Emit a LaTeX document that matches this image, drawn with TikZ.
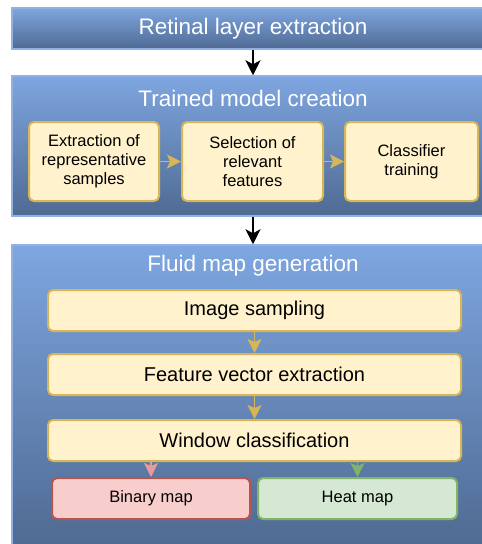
\documentclass[tikz,border=0pt]{standalone}
\usepackage{fontspec}
\setmainfont{Liberation Sans}
\usetikzlibrary{positioning,arrows.meta}
\definecolor{bluetop}{RGB}{126,166,224}
\definecolor{bluebot}{RGB}{79,106,146}
\definecolor{blueline}{RGB}{145,178,226}
\definecolor{yelfill}{HTML}{FFF2CC}
\definecolor{yelline}{HTML}{D6B656}
\definecolor{redfill}{HTML}{F8CECC}
\definecolor{redline}{HTML}{B85450}
\definecolor{redarrow}{HTML}{EA9A98}
\definecolor{grnfill}{HTML}{D5E8D4}
\definecolor{grnline}{HTML}{82B366}

\begin{document}
\begin{tikzpicture}[x=1pt,y=-1pt,
stage/.style={draw=blueline,line width=1.5pt,top color=bluetop,bottom color=bluebot,
 minimum width=482pt,inner sep=0pt,text=white,font=\fontsize{22.5}{27}\selectfont},
title/.style={text=white,font=\fontsize{22.5}{27}\selectfont},
item/.style={draw=yelline,fill=yelfill,line width=2pt,rounded corners=5pt,align=center,
 inner sep=0pt,minimum height=41pt,font=\fontsize{20}{24}\selectfont},
small/.style={item,minimum height=79pt,font=\fontsize{16.5}{19}\selectfont},
result/.style={item,font=\fontsize{16.5}{19}\selectfont},
link/.style={line width=1.8pt,-{Stealth[length=14pt,width=14pt,inset=3pt]}},
main/.style={line width=2pt,-{Stealth[length=15pt,width=15pt,inset=4pt]}}]
 \useasboundingbox (0,0) rectangle (482,544);

 % stages
 \node[stage,minimum height=41pt] (retinal) at (253,28.5) {Retinal layer extraction};
 \node[stage,minimum height=140pt] (model) at (253,146) {};
 \node[stage,minimum height=302pt] (fluid) at (253,396) {};
 \node[title] (modeltitle) at (253,98) {Trained model creation};
 \node[title] (fluidtitle) at (253,266) {Fluid map generation};

 \draw[main] (retinal.south) -- (model.north);
 \draw[main] (model.south) -- (fluid.north);

 % trained model creation
 \node[small,minimum width=130pt] (samples) at (94,161.5) {Extraction of\\representative\\samples};
 \node[small,minimum width=141pt,right=21pt of samples] (features) {Selection of\\relevant\\features};
 \node[small,minimum width=133pt,right=20pt of features] (training) {Classifier\\training};
 \draw[link,yelline] (samples) -- (features);
 \draw[link,yelline] (features) -- (training);

 % fluid map generation
 \node[item,minimum width=413pt] (sampling) at (254.5,310.5) {Image sampling};
 \node[item,minimum width=413pt,below=21pt of sampling] (vector) {Feature vector extraction};
 \node[item,minimum width=413pt,below=23pt of vector] (window) {Window classification};
 \node[result,minimum width=198pt,draw=redline,fill=redfill] (binary) at (151,498.5) {Binary map};
 \node[result,minimum width=199pt,draw=grnline,fill=grnfill] (heat) at (357.5,498.5) {Heat map};

 \draw[link,yelline] (sampling) -- (vector);
 \draw[link,yelline] (vector) -- (window);
 \draw[link,redarrow] (binary.north |- window.south) -- (binary.north);
 \draw[link,grnline] (heat.north |- window.south) -- (heat.north);
\end{tikzpicture}
\end{document}
